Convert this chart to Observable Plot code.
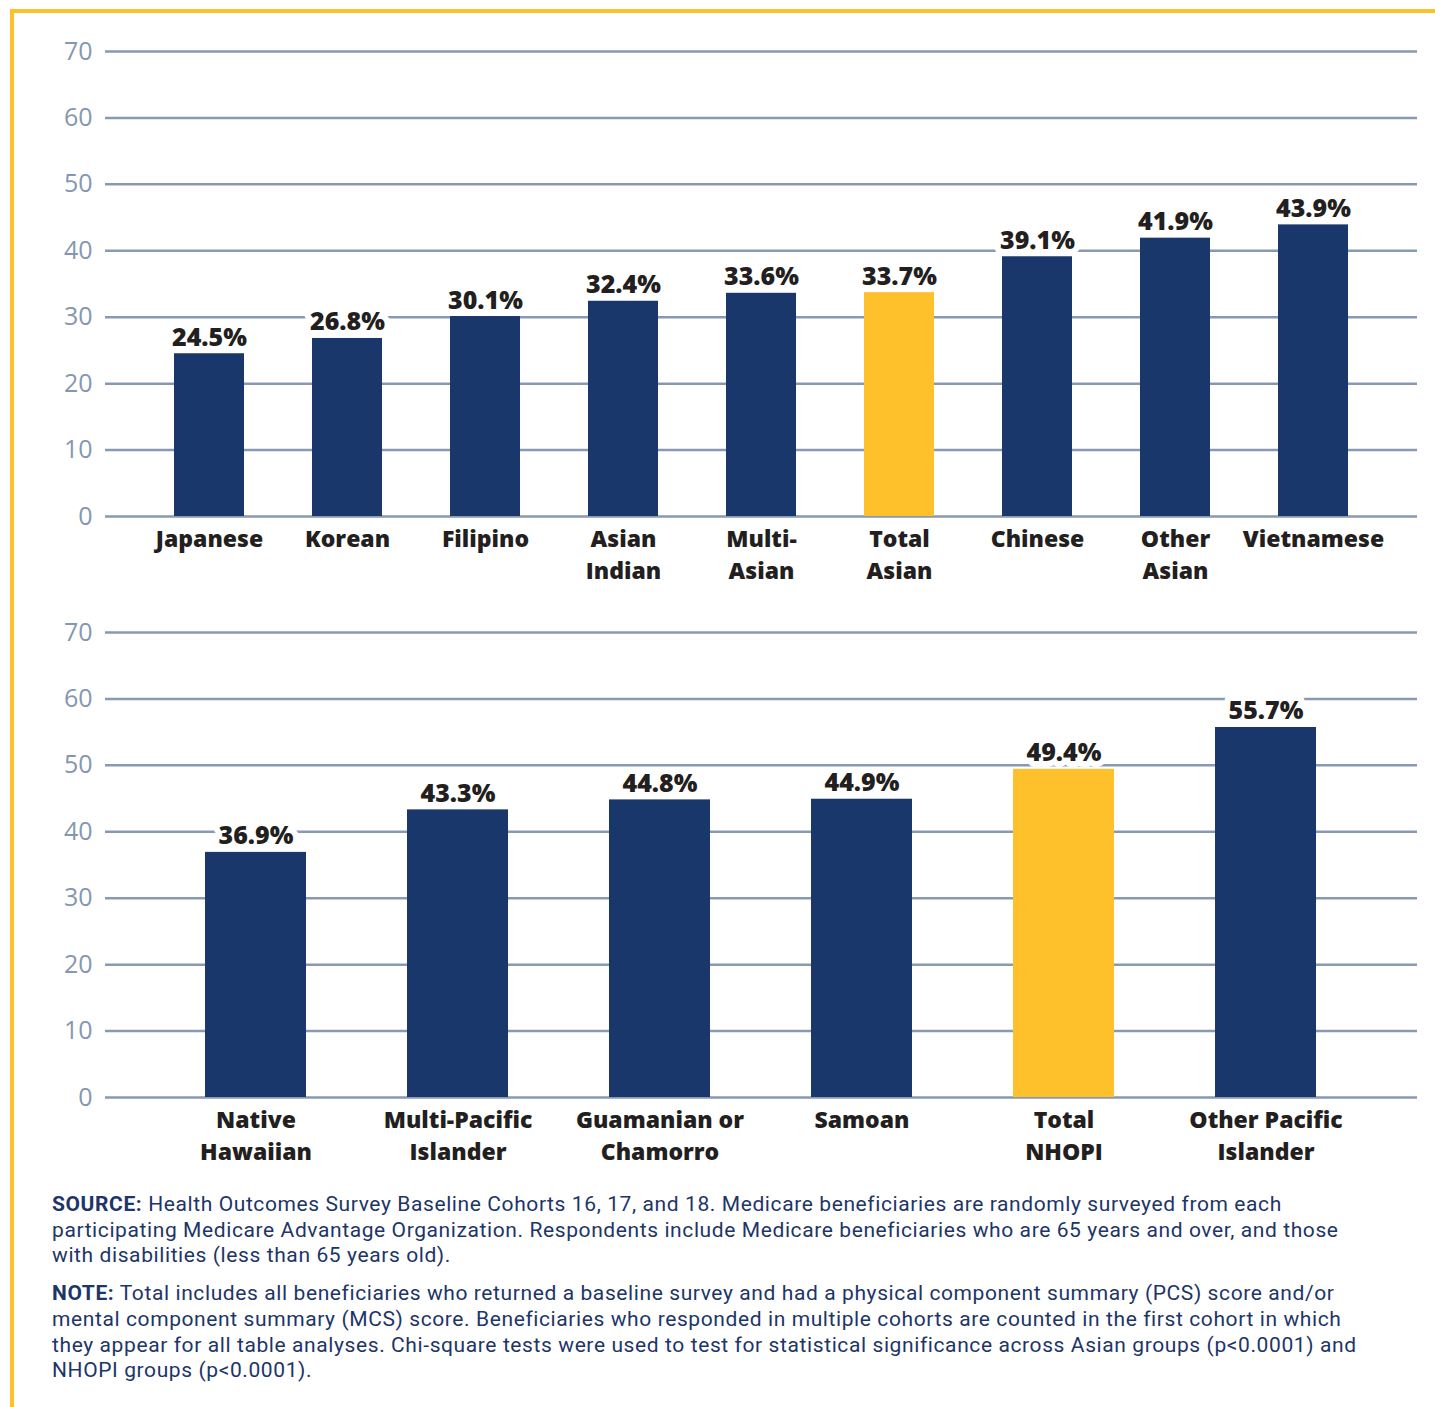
<!DOCTYPE html>
<html>
<head>
<meta charset="utf-8">
<script src="https://cdn.jsdelivr.net/npm/d3@7"></script>
<script src="https://cdn.jsdelivr.net/npm/@observablehq/plot@0.6"></script>
<style>
  html, body { margin: 0; padding: 0; background: #fff; }
  #page { position: relative; width: 1435px; height: 1407px; overflow: hidden; font-family: "Open Sans", sans-serif; }
  #frame { position: absolute; left: 10px; top: 9px; right: 0; bottom: 0; border-left: 4px solid #FFC12B; border-top: 4px solid #FFC12B; }
  .chart { position: absolute; left: 0; }
  #top { top: 0; }
  #bottom { top: 581px; }
  #notes { position: absolute; left: 52px; top: 1192px; width: 1380px; color: #1D3567; font-family: Roboto, sans-serif; font-size: 21px; letter-spacing: 0.6px; line-height: 25.7px; white-space: nowrap; }
  #notes p { margin: 0 0 12px 0; }
  #notes b { font-weight: 700; }
</style>
</head>
<body>
<div id="page">
  <div id="frame"></div>
  <div id="top" class="chart"></div>
  <div id="bottom" class="chart"></div>
  <div id="notes">
    <p><b>SOURCE:</b> Health Outcomes Survey Baseline Cohorts 16, 17, and 18. Medicare beneficiaries are randomly surveyed from each<br>participating Medicare Advantage Organization. Respondents include Medicare beneficiaries who are 65 years and over, and those<br>with disabilities (less than 65 years old).</p>
    <p><b>NOTE:</b> Total includes all beneficiaries who returned a baseline survey and had a physical component summary (PCS) score and/or<br>mental component summary (MCS) score. Beneficiaries who responded in multiple cohorts are counted in the first cohort in which<br>they appear for all table analyses. Chi-square tests were used to test for statistical significance across Asian groups (p&lt;0.0001) and<br>NHOPI groups (p&lt;0.0001).</p>
  </div>
</div>
<script>
const asianGroups = ["Japanese", "Korean", "Filipino", "Asian\nIndian", "Multi-\nAsian", "Total\nAsian", "Chinese", "Other\nAsian", "Vietnamese"];
const asianValues = [24.5, 26.8, 30.1, 32.4, 33.6, 33.7, 39.1, 41.9, 43.9];
const asianTotal = "Total\nAsian";

const nhopiGroups = ["Native\nHawaiian", "Multi-Pacific\nIslander", "Guamanian or\nChamorro", "Samoan", "Total\nNHOPI", "Other Pacific\nIslander"];
const nhopiValues = [36.9, 43.3, 44.8, 44.9, 49.4, 55.7];
const nhopiTotal = "Total\nNHOPI";

const yTicks = [0, 10, 20, 30, 40, 50, 60, 70];

const NAVY = "#1A376B";
const GOLD = "#FFC12B";
const GRID = "#8799B3";

function makeChart(groups, values, total, insetL, insetR, padInner) {
  const data = groups.map((g, i) => ({group: g, value: values[i], total: g === total}));
  return Plot.plot({
    width: 1435,
    height: 596,
    marginTop: 51,
    marginBottom: 80,
    marginLeft: 105,
    marginRight: 18,
    style: {fontFamily: "'Open Sans', sans-serif", background: "transparent"},
    x: {domain: groups, paddingInner: padInner, paddingOuter: 0, insetLeft: insetL, insetRight: insetR, label: null},
    y: {domain: [0, 70], ticks: yTicks, label: null},
    color: {type: "identity"},
    marks: [
      Plot.gridY(yTicks, {stroke: GRID, strokeOpacity: 1, strokeWidth: 2.5}),
      Plot.axisY(yTicks, {tickSize: 0, tickPadding: 13, fontSize: 25, fill: "#8497B1", label: null}),
      Plot.axisX({tickSize: 0, tickPadding: 8, fontSize: 23, fontWeight: 800, fill: "#231F20", lineHeight: 1.38, label: null}),
      Plot.barY(data, {x: "group", y: "value", fill: d => d.total ? GOLD : NAVY}),
      Plot.text(data, {
        x: "group", y: "value",
        text: d => d.value.toFixed(1) + "%",
        lineAnchor: "bottom", dy: -8,
        fontSize: 25, fontWeight: 800, fill: "#231F20",
        stroke: "white", strokeWidth: 12, strokeLinejoin: "round"
      })
    ]
  });
}

document.getElementById("top").append(makeChart(asianGroups, asianValues, asianTotal, 68, 68, 0.49));
document.getElementById("bottom").append(makeChart(nhopiGroups, nhopiValues, nhopiTotal, 100, 101, 0.5));
</script>
</body>
</html>
